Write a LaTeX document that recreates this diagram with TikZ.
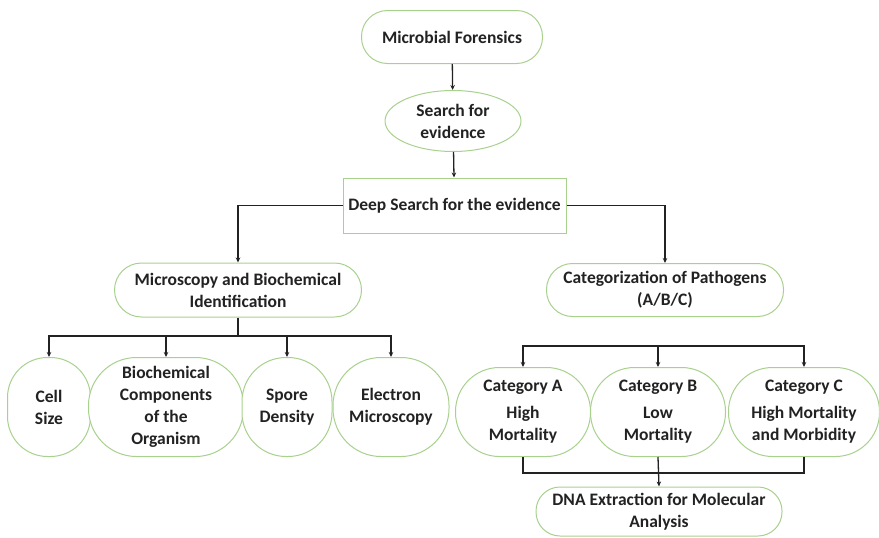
\documentclass[tikz,border=0pt]{standalone}
\usepackage{fontspec}
\setmainfont{Carlito}
\usetikzlibrary{arrows.meta,shapes.geometric}
\definecolor{gr}{HTML}{A9D18E}
\definecolor{ink}{HTML}{222222}
\begin{document}
\begin{tikzpicture}[x=1pt,y=-1pt,
 box/.style={draw=gr,line width=1pt,fill=white,align=center,text=ink,
   font=\bfseries\fontsize{17.5}{22}\selectfont,inner sep=0pt},
 conn/.style={line width=1.3pt,draw=ink},
 arr/.style={conn,-{Stealth[length=5pt,width=4.5pt]}}]
\useasboundingbox (0,0) rectangle (879,538);
% top chain
\node[box,rounded corners=26pt,minimum width=181pt,minimum height=53pt] (mf) at (452,37) {Microbial Forensics};
\node[box,ellipse,minimum width=136pt,minimum height=61pt] (se) at (453,121) {Search for\\evidence};
\node[box,rectangle,minimum width=223pt,minimum height=55pt] (ds) at (454.5,205.5) {Deep Search for the evidence};
% second level
\node[box,rounded corners=27pt,minimum width=247pt,minimum height=54pt] (mic) at (238,290) {Microscopy and Biochemical\\Identification};
\node[box,rounded corners=26pt,minimum width=237pt,minimum height=53pt] (cat) at (665,290) {Categorization of Pathogens\\(A/B/C)};
% left leaves
\node[box,rounded corners=40pt,minimum width=83pt,minimum height=99pt] (cs) at (49,407) {Cell\\Size};
\node[box,rounded corners=48pt,minimum width=155pt,minimum height=99pt] (bc) at (166,407) {Biochemical\\Components\\of the\\Organism};
\node[box,rounded corners=44pt,minimum width=90pt,minimum height=99pt] (sd) at (287,407) {Spore\\Density};
\node[box,rounded corners=48pt,minimum width=116pt,minimum height=99pt] (em) at (391,407) {Electron\\Microscopy};
% right leaves
\node[box,rounded corners=44pt,minimum width=135pt,minimum height=89pt] (ca) at (523,412) {Category A\\[5pt]High\\Mortality};
\node[box,rounded corners=44pt,minimum width=135pt,minimum height=89pt] (cb) at (658,412) {Category B\\[5pt]Low\\Mortality};
\node[box,rounded corners=44pt,minimum width=151pt,minimum height=89pt] (cc) at (804,412) {Category C\\[5pt]High Mortality\\and Morbidity};
\node[box,rounded corners=24pt,minimum width=246pt,minimum height=49pt] (dna) at (659,511.5) {DNA Extraction for Molecular\\Analysis};
% helper coordinates
\coordinate (lb) at (238,336);
\coordinate (rb) at (658,346);
\coordinate (bb) at (658,473);
% connectors
\draw[arr] (mf) -- (se);
\draw[arr] (se) -- (ds);
\draw[arr] (ds.west) -| (mic.north);
\draw[arr] (ds.east) -| (cat.north);
\draw[conn] (mic.south) -- (lb);
\draw[arr] (lb) -| (cs.north);
\draw[arr] (lb) -| (bc.north);
\draw[arr] (lb) -| (sd.north);
\draw[arr] (lb) -| (em.north);
\draw[arr] (rb) -| (ca.north);
\draw[arr] (rb) -- (cb.north);
\draw[arr] (rb) -| (cc.north);
\draw[conn] (ca.south) |- (bb) -| (cc.south);
\draw[arr] (cb.south) -- (dna.north);
\end{tikzpicture}
\end{document}
